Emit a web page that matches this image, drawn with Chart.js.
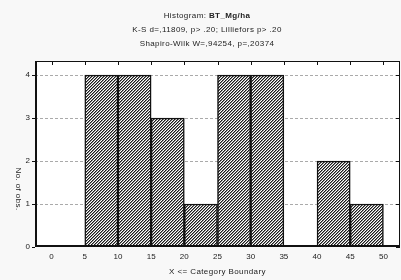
<!DOCTYPE html>
<html>
<head>
<meta charset="utf-8">
<script src="https://cdn.jsdelivr.net/npm/chart.js@4/dist/chart.umd.min.js"></script>
<style>
  html, body { margin: 0; padding: 0; background: #f8f8f8; }
  #wrap { width: 401px; height: 280px; }
</style>
</head>
<body>
<div id="wrap"><canvas id="histChart" width="401" height="280"></canvas></div>
<script>
// Histogram data (bins of width 5)
const binStarts = [0, 5, 10, 15, 20, 25, 30, 35, 40, 45];
const binEnds = [5, 10, 15, 20, 25, 30, 35, 40, 45, 50];
const counts = [0, 4, 4, 3, 1, 4, 4, 0, 2, 1];
const xTicks = [0, 5, 10, 15, 20, 25, 30, 35, 40, 45, 50];
const yTicks = [0, 1, 2, 3, 4];

const titleLines = ['K-S d=,11809, p> .20; Lilliefors p> .20', 'Shapiro-Wilk W=,94254, p=,20374'];
const xTitle = 'X <= Category Boundary';
const yTitle = 'No. of obs.';
const fontFamily = '"Liberation Sans", Arial, sans-serif';

// diagonal hatch pattern
function makeHatch() {
    const c = document.createElement('canvas');
    c.width = 3; c.height = 3;
    const g = c.getContext('2d');
    g.fillStyle = '#ffffff';
    g.fillRect(0, 0, 3, 3);
    for (let r = 0; r < 3; r++) {
        g.fillStyle = '#1a1a1a';
        g.fillRect(2 - r, r, 1, 1);
        g.fillStyle = '#8a8a8a';
        g.fillRect((3 - r) % 3, r, 1, 1);
    }
    return g.createPattern(c, 'repeat');
}

// Statistica-like frame, top/right ticks and title text
const framePlugin = {
    id: 'frame',
    beforeDraw(chart) {
        const { ctx, chartArea: a } = chart;
        ctx.save();
        ctx.fillStyle = '#ffffff';
        ctx.fillRect(a.left, a.top, a.right - a.left, a.bottom - a.top);
        ctx.restore();
    },
    afterDraw(chart) {
        const { ctx, chartArea: a, scales } = chart;
        ctx.save();
        ctx.strokeStyle = '#111';
        ctx.lineWidth = 1;
        ctx.strokeRect(a.left + 0.5, a.top + 0.5, a.right - a.left - 1, a.bottom - a.top - 1);
        // heavier left and bottom axis
        ctx.lineWidth = 2;
        ctx.beginPath();
        ctx.moveTo(a.left + 1, a.top);
        ctx.lineTo(a.left + 1, a.bottom);
        ctx.moveTo(a.left, a.bottom - 1);
        ctx.lineTo(a.right, a.bottom - 1);
        ctx.stroke();
        // inner ticks on top and right
        ctx.lineWidth = 1;
        ctx.beginPath();
        xTicks.forEach(v => {
            const px = Math.round(scales.x.getPixelForValue(v)) + 0.5;
            ctx.moveTo(px, a.top);
            ctx.lineTo(px, a.top + 4);
        });
        yTicks.forEach(v => {
            const py = Math.round(scales.y.getPixelForValue(v)) + 0.5;
            ctx.moveTo(a.right, py);
            ctx.lineTo(a.right - 4, py);
        });
        ctx.stroke();

        // titles
        ctx.fillStyle = '#222';
        ctx.textBaseline = 'middle';
        ctx.letterSpacing = '0.4px';
        const cx = 207;
        const fNorm = '8px ' + fontFamily;
        const fBold = 'bold 8px ' + fontFamily;
        ctx.font = fNorm;
        const w1 = ctx.measureText('Histogram: ').width;
        ctx.font = fBold;
        const w2 = ctx.measureText('BT_Mg/ha').width;
        let x0 = cx - (w1 + w2) / 2;
        ctx.textAlign = 'left';
        ctx.font = fNorm;
        ctx.fillText('Histogram: ', x0, 16);
        ctx.font = fBold;
        ctx.fillText('BT_Mg/ha', x0 + w1, 16);
        ctx.font = fNorm;
        ctx.textAlign = 'center';
        ctx.fillText(titleLines[0], cx, 30);
        ctx.fillText(titleLines[1], cx, 44);

        // x axis title
        ctx.fillText(xTitle, (a.left + a.right) / 2, 272);

        // y axis title, reads top to bottom
        ctx.translate(18, 189);
        ctx.rotate(Math.PI / 2);
        ctx.fillText(yTitle, 0, 0);
        ctx.restore();
    }
};

const ctx = document.getElementById('histChart').getContext('2d');
new Chart(ctx, {
    type: 'bar',
    data: {
        datasets: [{
            data: counts.map((c, i) => ({ x: (binStarts[i] + binEnds[i]) / 2, y: c })),
            backgroundColor: makeHatch(),
            borderColor: '#111',
            borderWidth: 1.5,
            borderSkipped: false,
            barPercentage: 1,
            categoryPercentage: 1
        }]
    },
    options: {
        responsive: false,
        devicePixelRatio: 1,
        animation: false,
        layout: { padding: { top: 61, right: 1, left: 0, bottom: 0 } },
        plugins: {
            legend: { display: false },
            tooltip: { enabled: false },
            title: { display: false }
        },
        scales: {
            x: {
                type: 'linear',
                offset: false,
                min: -2.5,
                max: 52.5,
                afterBuildTicks: s => { s.ticks = xTicks.map(v => ({ value: v })); },
                afterFit: s => { s.height = 33; },
                grid: { display: false, drawTicks: false },
                border: { display: false },
                ticks: { color: '#222', font: { family: fontFamily, size: 8 }, padding: 5, maxRotation: 0 }
            },
            y: {
                min: 0,
                max: 4.33,
                afterBuildTicks: s => { s.ticks = yTicks.map(v => ({ value: v })); },
                afterFit: s => { s.width = 35; },
                grid: {
                    color: c => c.tick && c.tick.value === 0 ? 'rgba(0,0,0,0)' : '#aaaaaa',
                    tickColor: '#111',
                    tickLength: 3,
                    drawTicks: true
                },
                border: { display: false, dash: [3, 2] },
                ticks: { color: '#222', font: { family: fontFamily, size: 8 }, padding: 2 }
            }
        }
    },
    plugins: [framePlugin]
});
</script>
</body>
</html>
